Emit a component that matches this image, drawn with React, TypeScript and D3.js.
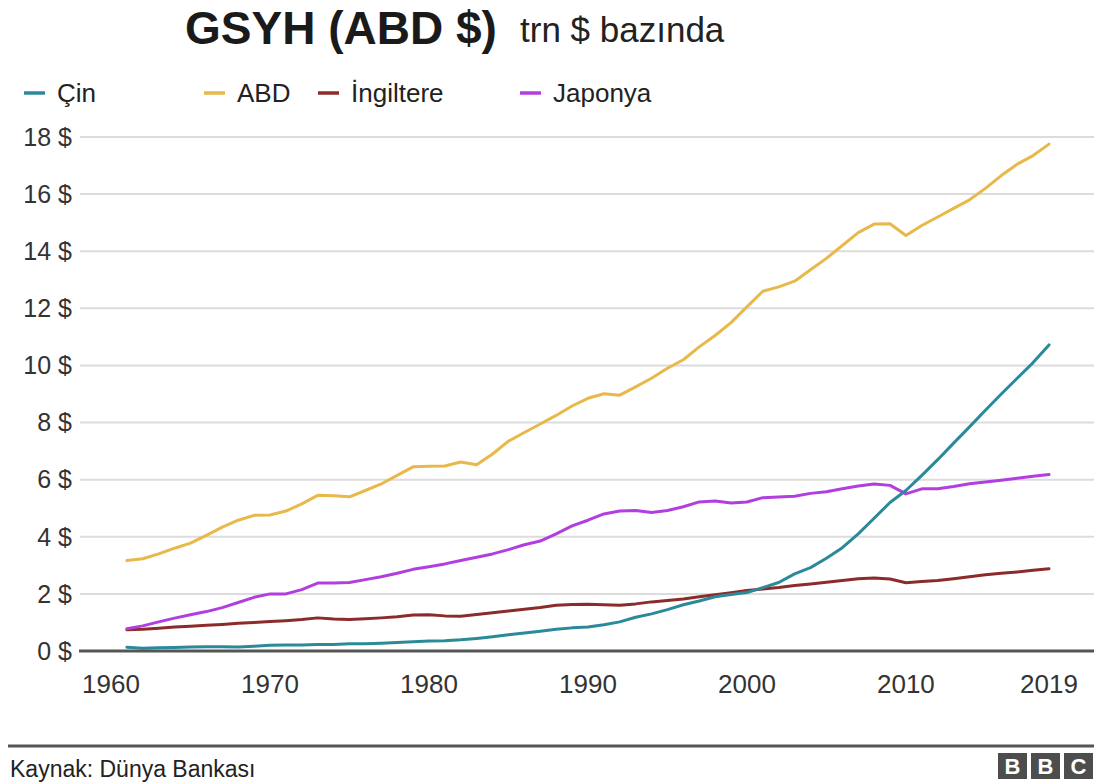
import React from "react";
import * as d3 from "d3";

const years: number[] = d3.range(1961, 2020);

const cin: number[] = [
  0.13, 0.10, 0.11, 0.12, 0.14, 0.15, 0.15, 0.14, 0.17, 0.20,
  0.21, 0.21, 0.23, 0.23, 0.25, 0.25, 0.27, 0.30, 0.32, 0.35,
  0.36, 0.39, 0.44, 0.50, 0.57, 0.63, 0.69, 0.76, 0.81, 0.84,
  0.92, 1.02, 1.18, 1.30, 1.45, 1.62, 1.75, 1.90, 1.98, 2.05,
  2.22, 2.40, 2.70, 2.92, 3.25, 3.62, 4.10, 4.65, 5.20, 5.62,
  6.15, 6.70, 7.28, 7.85, 8.43, 9.00, 9.55, 10.10, 10.72,
];

const abd: number[] = [
  3.17, 3.23, 3.40, 3.60, 3.78, 4.05, 4.34, 4.58, 4.75, 4.76,
  4.90, 5.15, 5.45, 5.44, 5.40, 5.62, 5.85, 6.15, 6.45, 6.47,
  6.48, 6.62, 6.52, 6.90, 7.35, 7.65, 7.95, 8.25, 8.58, 8.85,
  9.01, 8.96, 9.25, 9.55, 9.90, 10.20, 10.65, 11.05, 11.50, 12.05,
  12.60, 12.75, 12.95, 13.35, 13.75, 14.20, 14.65, 14.95, 14.96, 14.55,
  14.90, 15.20, 15.50, 15.80, 16.20, 16.65, 17.05, 17.35, 17.75,
];

const ingiltere: number[] = [
  0.74, 0.76, 0.80, 0.84, 0.87, 0.90, 0.93, 0.97, 1.00, 1.03,
  1.06, 1.10, 1.16, 1.12, 1.10, 1.13, 1.16, 1.20, 1.26, 1.27,
  1.23, 1.22, 1.28, 1.34, 1.40, 1.46, 1.52, 1.60, 1.63, 1.64,
  1.62, 1.60, 1.65, 1.72, 1.77, 1.82, 1.90, 1.97, 2.04, 2.12,
  2.17, 2.22, 2.29, 2.35, 2.41, 2.47, 2.53, 2.56, 2.52, 2.39,
  2.43, 2.47, 2.53, 2.60, 2.67, 2.72, 2.77, 2.83, 2.88,
];

const japonya: number[] = [
  0.78, 0.88, 1.02, 1.15, 1.27, 1.38, 1.52, 1.70, 1.88, 2.00,
  2.00, 2.15, 2.38, 2.38, 2.40, 2.50, 2.60, 2.72, 2.86, 2.95,
  3.05, 3.17, 3.28, 3.40, 3.55, 3.72, 3.85, 4.10, 4.38, 4.58,
  4.80, 4.90, 4.92, 4.85, 4.92, 5.05, 5.22, 5.25, 5.18, 5.22,
  5.37, 5.39, 5.42, 5.52, 5.58, 5.68, 5.78, 5.85, 5.80, 5.50,
  5.68, 5.68, 5.76, 5.86, 5.92, 5.98, 6.05, 6.12, 6.18,
];

const seriesNames: string[] = ["Çin", "ABD", "İngiltere", "Japonya"];
const seriesColors: string[] = ["#2b8a99", "#e8b94a", "#8c2b2b", "#b13fe0"];
const yTicks: number[] = [0, 2, 4, 6, 8, 10, 12, 14, 16, 18];
const xTicks: number[] = [1960, 1970, 1980, 1990, 2000, 2010, 2019];

const FONT = "'Liberation Sans', Arial, Helvetica, sans-serif";

export default function App() {
  const W = 1094;
  const H = 782;
  const x = d3.scaleLinear().domain([1960, 2019]).range([111, 1049]);
  const y = d3.scaleLinear().domain([0, 18]).range([651, 137]);
  const line = d3
    .line<number>()
    .x((_, i) => x(years[i]))
    .y((v) => y(v))
    .curve(d3.curveLinear);

  const allSeries = [cin, abd, ingiltere, japonya];
  const drawOrder = [2, 3, 0, 1];
  const legendX = [24, 204, 318, 520];

  return (
    <svg
      width={W}
      height={H}
      style={{ position: "absolute", left: 0, top: 0, background: "#fff" }}
      fontFamily={FONT}
    >
      <rect x={0} y={0} width={W} height={H} fill="#fff" />
      <text x={185} y={44} fontSize={46} fontWeight="bold" fill="#1a1a1a">
        GSYH (ABD $)
      </text>
      <text x={520} y={42} fontSize={35} fill="#222">
        trn $ bazında
      </text>

      {seriesNames.map((n, i) => (
        <g key={n}>
          <line
            x1={legendX[i]}
            x2={legendX[i] + 21}
            y1={93}
            y2={93}
            stroke={seriesColors[i]}
            strokeWidth={3.5}
          />
          <text x={legendX[i] + 33} y={102} fontSize={26} fill="#222">
            {n}
          </text>
        </g>
      ))}

      {yTicks.map((t) => (
        <g key={t}>
          {t !== 0 && (
            <line x1={80} x2={W} y1={y(t)} y2={y(t)} stroke="#dcdcdc" strokeWidth={2} />
          )}
          <text
            x={72}
            y={y(t)}
            dy="0.35em"
            textAnchor="end"
            fontSize={25}
            fill="#333"
          >
            {`${t} $`}
          </text>
        </g>
      ))}

      {drawOrder.map((i) => (
        <path
          key={seriesNames[i]}
          d={line(allSeries[i]) || ""}
          fill="none"
          stroke={seriesColors[i]}
          strokeWidth={3}
          strokeLinejoin="round"
          strokeLinecap="round"
        />
      ))}

      <line x1={79} x2={W} y1={y(0)} y2={y(0)} stroke="#555" strokeWidth={3} />

      {xTicks.map((t) => (
        <text
          key={t}
          x={x(t)}
          y={693}
          textAnchor="middle"
          fontSize={26}
          fill="#333"
        >
          {t}
        </text>
      ))}

      <line x1={8} x2={W} y1={746} y2={746} stroke="#555" strokeWidth={3} />
      <text x={10} y={777} fontSize={23} fill="#222">
        Kaynak: Dünya Bankası
      </text>
      {["B", "B", "C"].map((c, i) => (
        <g key={i}>
          <rect x={998 + i * 33} y={753} width={29} height={26} fill="#4d4d4d" />
          <text
            x={998 + i * 33 + 14.5}
            y={774}
            textAnchor="middle"
            fontSize={22}
            fontWeight="bold"
            fill="#fff"
          >
            {c}
          </text>
        </g>
      ))}
    </svg>
  );
}
